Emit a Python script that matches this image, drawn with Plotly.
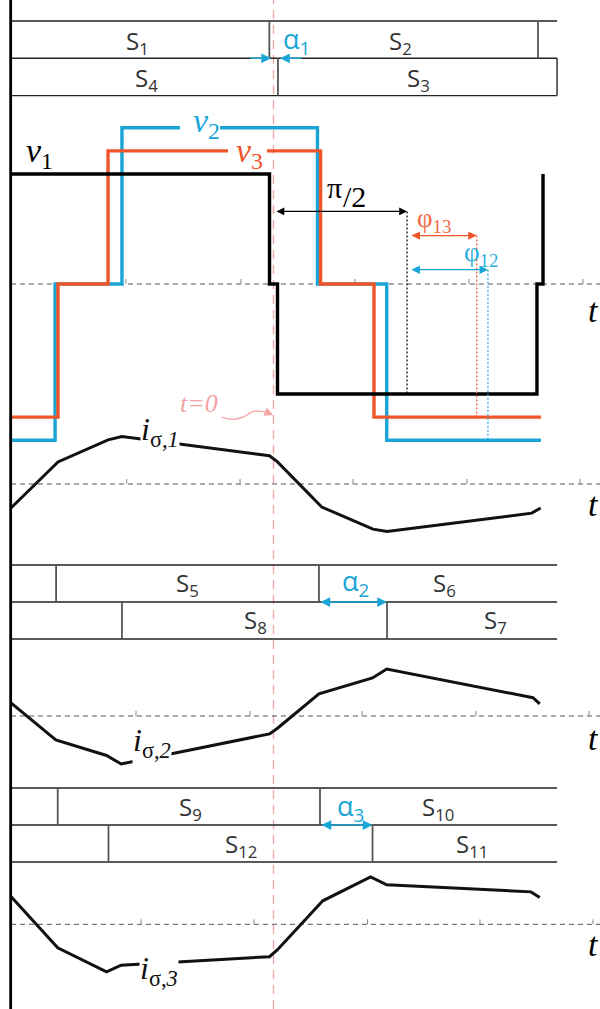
import plotly.graph_objects as go

W, H = 600, 1009

# ---------------------------------------------------------------------------
# Data (time in electrical degrees, t = 0 at the S1 -> S2 commutation)
# ---------------------------------------------------------------------------
# phase voltages, drawn as hv steps: switching instants and levels
v1_t = [-177.4, -2.7, 2.7, 178.0, 182.1]
v1_v = [1.0, 0.0, -1.0, 0.0, 1.0]
v2_t = [-177.4, -147.6, -102.4, 29.7, 76.5, 180.7]
v2_v = [-1.42, 0.0, 1.42, 0.0, -1.42, -1.42]
v3_t = [-177.4, -145.6, -111.8, 31.8, 67.9, 180.7]
v3_v = [-1.21, 0.0, 1.21, 0.0, -1.21, -1.21]

# leakage-inductance currents
i1_t = [-177.4, -145.6, -111.8, -102.4, -2.7, 2.7, 32.6, 67.2, 76.7, 174.5, 180.5]
i1_v = [-0.51, 0.47, 0.94, 1.01, 0.60, 0.47, -0.49, -0.96, -1.01, -0.62, -0.51]
i2_t = [-177.4, -147.1, -112.8, -102.9, -2.7, 2.7, 30.7, 66.9, 76.5, 175.3, 179.9]
i2_v = [0.28, -0.51, -0.84, -1.02, -0.38, -0.26, 0.47, 0.81, 1.00, 0.39, 0.26]
i3_t = [-177.4, -145.8, -112.8, -103.0, -2.7, 2.7, 33.3, 65.6, 76.5, 174.0, 179.9]
i3_v = [0.59, -0.50, -1.01, -0.87, -0.69, -0.54, 0.50, 1.01, 0.84, 0.69, 0.57]

# switch conduction bars: extent and commutation instants per row
sw_span = [-177.4, 191.6]
g1_upper = [-2.8, 178.7]
g1_lower = [3.0, 191.6]
g2_upper = [-146.9, 30.7]
g2_lower = [-102.4, 76.7]
g3_upper = [-145.8, 31.4]
g3_lower = [-111.5, 66.9]
g1_names = ["S<sub>1</sub>", "S<sub>2</sub>", "S<sub>4</sub>", "S<sub>3</sub>"]
g2_names = ["S<sub>5</sub>", "S<sub>6</sub>", "S<sub>8</sub>", "S<sub>7</sub>"]
g3_names = ["S<sub>9</sub>", "S<sub>10</sub>", "S<sub>12</sub>", "S<sub>11</sub>"]

# phase shifts
half_pi = [1.0, 90.2]
phi13 = [92.2, 137.3]
phi12 = [92.2, 144.9]
alpha1_in = [[-16.6, -1.7], [19.9, 4.4]]
alpha2 = [30.7, 76.7]
alpha3 = [31.4, 66.9]

# small tick marks on each zero line
ticks_v = [-99.7, -22.0, 55.1, 132.1, 209.1]
ticks_i1 = [-99.2, -22.6, 53.7, 130.7, 207.1]
ticks_i2 = [-92.9, -15.9, 59.8, 136.8, 213.2]
ticks_i3 = [-89.5, -13.2, 63.5, 139.5, 215.9]

# ---------------------------------------------------------------------------
BLUE = "#19a6d6"
ORANGE = "#f0552a"
PINK = "#f3a2a6"
GRAY = "#555555"
SERIF = "Liberation Serif"
SANS = "Open Sans"

X_RANGE = [-184.8, 220.6]


def up_axis(p0, scale):
    """value v sits at p0 - scale*v pixels from the top"""
    return [(p0 - H) / scale, p0 / scale]


def down_axis(top, scale):
    """row value u sits at top + scale*u pixels from the top"""
    return [(H - top) / scale, -top / scale]


fig = go.Figure()


def line(x, y, yaxis, color, width, dash=None, shape="linear"):
    fig.add_trace(go.Scatter(
        x=x, y=y, yaxis=yaxis, mode="lines", hoverinfo="skip",
        line=dict(color=color, width=width, dash=dash, shape=shape),
        connectgaps=False))


def zero_line(yaxis, ticks, tick_h):
    line([-177.4, 230], [0, 0], yaxis, GRAY, 1, dash="5px,4px")
    xs, ys = [], []
    for t in ticks:
        xs += [t, t, None]
        ys += [0, tick_h, None]
    line(xs, ys, yaxis, "#888888", 1)


# --- voltage panel ---------------------------------------------------------
zero_line("y", ticks_v, 5 / 110)
line(v2_t, v2_v, "y", BLUE, 3.4, shape="hv")
line(v3_t, v3_v, "y", ORANGE, 3.4, shape="hv")
# breaks in the v2 / v3 traces where their names sit
line([-63.2, -36.1], [1.42, 1.42], "y", "white", 6)
line([-30.7, -4.4], [1.21, 1.21], "y", "white", 6)
line(v1_t, v1_v, "y", "black", 3.4, shape="hv")
# dotted projections of the phase-shift markers
line([half_pi[1], half_pi[1]], [0.66, -1.0], "y", "black", 1.2, dash="2px,2px")
line([phi13[1], phi13[1]], [0.44, -1.21], "y", ORANGE, 1.2, dash="2px,2px")
line([phi12[1], phi12[1]], [0.13, -1.42], "y", BLUE, 1.2, dash="2px,2px")
# curly pointer towards t = 0
line([-35.0, -27.4, -20.6, -13.9, -7.1, -2.6],
     [-1.21, -1.23, -1.21, -1.16, -1.16, -1.18], "y", PINK, 1.3, shape="spline")

# --- current panels ---------------------------------------------------------
zero_line("y2", ticks_i1, 5 / 47)
line(i1_t, i1_v, "y2", "#111111", 3)
zero_line("y3", ticks_i2, 5 / 47)
line(i2_t, i2_v, "y3", "#111111", 3)
zero_line("y4", ticks_i3, 5 / 47)
line(i3_t, i3_v, "y4", "#111111", 3)

# --- switch bars ------------------------------------------------------------
for yax, upper, lower in (("y5", g1_upper, g1_lower),
                          ("y6", g2_upper, g2_lower),
                          ("y7", g3_upper, g3_lower)):
    xs, ys = [], []
    for r in (0, 1, 2):
        xs += [sw_span[0], sw_span[1], None]
        ys += [r, r, None]
    line(xs, ys, yax, "#222222", 1.4)
    xs, ys = [], []
    for d in upper:
        xs += [d, d, None]
        ys += [0, 1, None]
    for d in lower:
        xs += [d, d, None]
        ys += [1, 2, None]
    line(xs, ys, yax, GRAY, 1.8)

annotations = []


def text(s, x, y, yref, size, color, family=SANS, bg=None, italic=False):
    annotations.append(dict(
        text=s, x=x, y=y, xref="x", yref=yref, showarrow=False,
        xanchor="center", yanchor="middle",
        font=dict(size=size, color=color, family=family,
                  style="italic" if italic else "normal"),
        bgcolor=bg, borderpad=0))


def arrow(x_tip, x_tail, y, yref, color, both=True, width=1.5):
    annotations.append(dict(
        text="", x=x_tip, y=y, ax=x_tail, ay=y, xref="x", yref=yref,
        axref="x", ayref=yref, showarrow=True, arrowhead=2, arrowsize=1.3,
        arrowwidth=width, arrowcolor=color,
        arrowside="end+start" if both else "end", standoff=0, startstandoff=0))


# switch labels
pos_g1 = [(-92.2, 0.55), (86.1, 0.55), (-86.1, 1.55), (98.3, 1.55)]
pos_g2 = [(-57.8, 0.52), (115.2, 0.52), (-12.5, 1.52), (149.7, 1.52)]
pos_g3 = [(-56.4, 0.55), (111.1, 0.55), (-22.0, 1.55), (134.1, 1.55)]
for yref, names, pos in (("y5", g1_names, pos_g1),
                         ("y6", g2_names, pos_g2),
                         ("y7", g3_names, pos_g3)):
    for n, (x, y) in zip(names, pos):
        text(n, x, y, yref, 24, "#333333")

# alpha markers
for a in alpha1_in:
    arrow(a[1], a[0], 1, "y5", BLUE, both=False)
text("α<sub>1</sub>", 15.2, 0.52, "y5", 27, BLUE)
arrow(alpha2[1], alpha2[0], 1, "y6", BLUE)
text("α<sub>2</sub>", 55.7, 0.47, "y6", 27, BLUE)
arrow(alpha3[1], alpha3[0], 1, "y7", BLUE)
text("α<sub>3</sub>", 51.7, 0.52, "y7", 27, BLUE)

# voltage labels
text("<i>v</i><sub>1</sub>", -157.8, 1.19, "y", 34, "black", SERIF)
text("<i>v</i><sub>2</sub>", -45.6, 1.46, "y", 34, BLUE, SERIF)
text("<i>v</i><sub>3</sub>", -15.9, 1.19, "y", 34, ORANGE, SERIF)
text("<i>t</i>", 215.9, -0.24, "y", 34, "black", SERIF)
text("π", 40.9, 0.88, "y", 30, "black", SERIF)
text("/2", 55.0, 0.80, "y", 30, "black", SERIF)
text("φ<sub>13</sub>", 108.4, 0.58, "y", 27, "#f26a45", SERIF)
text("φ<sub>12</sub>", 140.2, 0.27, "y", 27, "#2aaedc", SERIF)
text("t=0", -50.3, -1.09, "y", 26, PINK, SERIF, italic=True)
arrow(half_pi[1], half_pi[0], 0.66, "y", "black", width=1.2)
arrow(phi13[1], phi13[0], 0.44, "y", ORANGE, width=1.3)
arrow(phi12[1], phi12[0], 0.13, "y", BLUE, width=1.3)
annotations.append(dict(text="", x=-0.3, y=-1.19, ax=-5.0, ay=-1.165,
                        xref="x", yref="y", axref="x", ayref="y",
                        showarrow=True, arrowhead=2, arrowsize=1.3,
                        arrowwidth=1.3, arrowcolor=PINK, standoff=0))

# current labels
text("<i>i</i><sub>σ,<i>1</i></sub>", -76.7, 1.11, "y2", 32, "#111111", SERIF, bg="white")
text("<i>i</i><sub>σ,<i>2</i></sub>", -82.1, -0.57, "y3", 32, "#111111", SERIF, bg="white")
text("<i>i</i><sub>σ,<i>3</i></sub>", -77.4, -0.99, "y4", 32, "#111111", SERIF, bg="white")
text("<i>t</i>", 215.9, -0.43, "y2", 34, "black", SERIF)
text("<i>t</i>", 215.9, -0.47, "y3", 34, "black", SERIF)
text("<i>t</i>", 215.9, -0.44, "y4", 34, "black", SERIF)

hidden = dict(visible=False, fixedrange=True)
fig.update_layout(
    width=W, height=H, autosize=False,
    margin=dict(l=0, r=0, t=0, b=0, pad=0),
    paper_bgcolor="white", plot_bgcolor="white", showlegend=False,
    xaxis=dict(range=X_RANGE, **hidden),
    yaxis=dict(range=up_axis(284, 110), **hidden),
    yaxis2=dict(range=up_axis(484, 47), overlaying="y", **hidden),
    yaxis3=dict(range=up_axis(716, 47), overlaying="y", **hidden),
    yaxis4=dict(range=up_axis(924.3, 47), overlaying="y", **hidden),
    yaxis5=dict(range=down_axis(21, 37.3), overlaying="y", **hidden),
    yaxis6=dict(range=down_axis(565, 37), overlaying="y", **hidden),
    yaxis7=dict(range=down_axis(788, 37), overlaying="y", **hidden),
    annotations=annotations,
    shapes=[
        dict(type="line", xref="x", yref="paper", x0=0, x1=0, y0=0, y1=1,
             line=dict(color=PINK, width=1.3, dash="9px,6px"), layer="below"),
        dict(type="line", xref="x", yref="paper", x0=-177.6, x1=-177.6,
             y0=0, y1=1, line=dict(color="black", width=2.8), layer="above"),
    ],
)

fig.write_html("out.html")
